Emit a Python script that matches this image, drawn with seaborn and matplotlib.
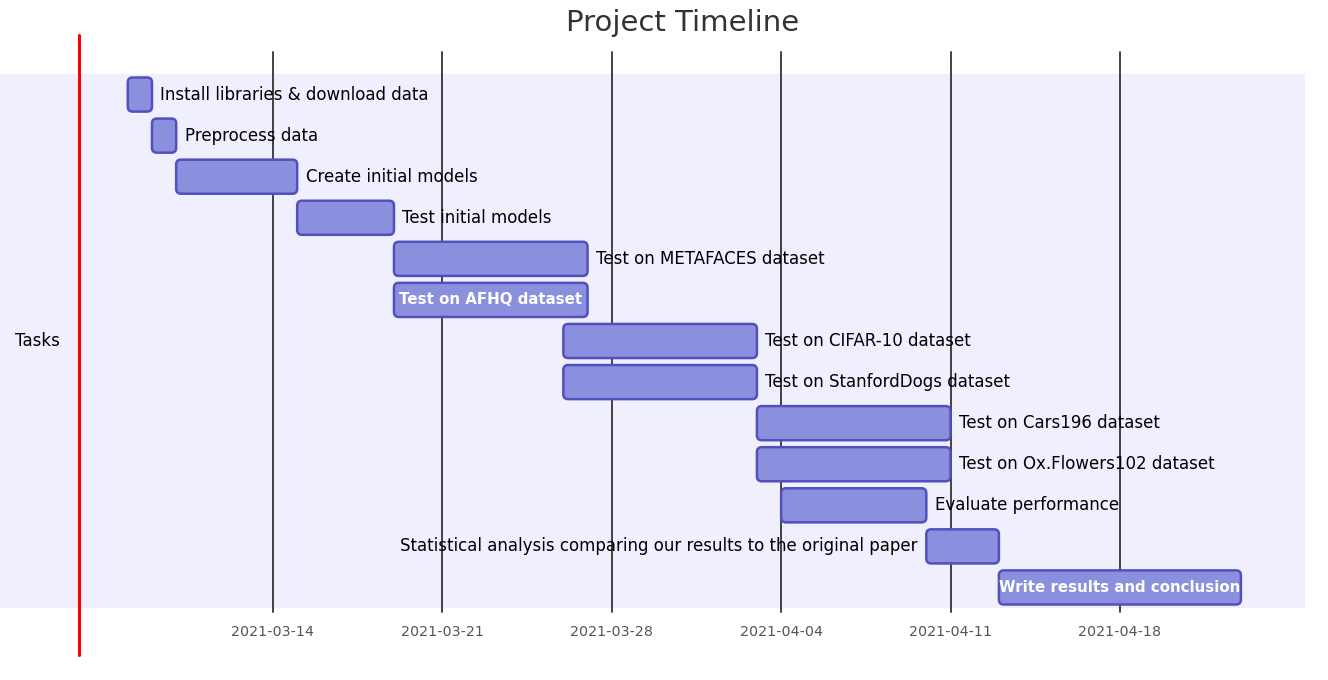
import matplotlib
matplotlib.use("Agg")
import matplotlib.pyplot as plt
import matplotlib.dates as mdates
from matplotlib.patches import FancyBboxPatch
import seaborn as sns
import pandas as pd

# task data
tasks = [
    "Install libraries & download data",
    "Preprocess data",
    "Create initial models",
    "Test initial models",
    "Test on METAFACES dataset",
    "Test on AFHQ dataset",
    "Test on CIFAR-10 dataset",
    "Test on StanfordDogs dataset",
    "Test on Cars196 dataset",
    "Test on Ox.Flowers102 dataset",
    "Evaluate performance",
    "Statistical analysis comparing our results to the original paper",
    "Write results and conclusion",
]
starts = ["2021-03-08", "2021-03-09", "2021-03-10", "2021-03-15", "2021-03-19",
          "2021-03-19", "2021-03-26", "2021-03-26", "2021-04-03", "2021-04-03",
          "2021-04-04", "2021-04-10", "2021-04-13"]
ends = ["2021-03-09", "2021-03-10", "2021-03-15", "2021-03-19", "2021-03-27",
        "2021-03-27", "2021-04-03", "2021-04-03", "2021-04-11", "2021-04-11",
        "2021-04-10", "2021-04-13", "2021-04-23"]
# where the label sits: right of bar, inside bar, left of bar
label_pos = ["right", "right", "right", "right", "right", "inside", "right",
             "right", "right", "right", "right", "left", "inside"]
section = "Tasks"
today = "2021-03-06"
tick_dates = pd.date_range("2021-03-14", "2021-04-18", freq="7D")
view_start, view_end = "2021-03-02 17:15", "2021-04-25 15:35"

df = pd.DataFrame({"task": tasks, "start": pd.to_datetime(starts),
                   "end": pd.to_datetime(ends), "pos": label_pos})
df["s"] = mdates.date2num(df["start"])
df["dur"] = mdates.date2num(df["end"]) - df["s"]

sns.set_theme(style="white")
plt.rcParams["font.family"] = ["DejaVu Sans"]

fill = "#8A90DD"
edge = "#534FBC"
band = "#EFEFFD"

fig = plt.figure(figsize=(13.28, 6.8), dpi=100)
ax = fig.add_axes([0, 72 / 680, 1305 / 1328, 534 / 680])
ax.set_facecolor(band)
for sp in ax.spines.values():
    sp.set_visible(False)

bars = ax.barh(range(len(df)), df["dur"], left=df["s"], height=0.83,
               color=fill, edgecolor=edge)
ax.set_xlim(mdates.datestr2num(view_start), mdates.datestr2num(view_end))
ax.set_ylim(len(df) - 0.5, -0.5)

# rounded bars
for b in bars:
    x, y, w, h = b.get_x(), b.get_y(), b.get_width(), b.get_height()
    b.set_visible(False)
    ax.add_patch(FancyBboxPatch((x, y), w, h,
                                boxstyle="round,pad=0,rounding_size=0.2",
                                mutation_aspect=0.59, facecolor=fill,
                                edgecolor=edge, linewidth=1.8, zorder=3))

ax.set_xticks(mdates.date2num(tick_dates))
ax.xaxis.set_major_formatter(mdates.DateFormatter("%Y-%m-%d"))
ax.tick_params(axis="x", length=0, pad=12, labelsize=10.3, labelcolor="#555555")
ax.set_yticks([])

for t in ax.get_xticks():
    ax.axvline(t, ymin=-0.008, ymax=1.041, color="#333333", lw=1.3,
               clip_on=False, zorder=2)

ax.axvline(mdates.datestr2num(today), ymin=-0.088, ymax=1.073, color="red",
           lw=2.2, clip_on=False, zorder=4)

for i, r in df.iterrows():
    if r["pos"] == "inside":
        ax.text(r["s"] + r["dur"] / 2, i, r["task"], ha="center", va="center",
                color="white", fontsize=10.8, fontweight="bold", zorder=5)
    elif r["pos"] == "left":
        ax.annotate(r["task"], (r["s"], i), xytext=(-6, 0),
                    textcoords="offset points", ha="right", va="center",
                    fontsize=12, color="black", zorder=5)
    else:
        ax.annotate(r["task"], (r["s"] + r["dur"], i), xytext=(6, 0),
                    textcoords="offset points", ha="left", va="center",
                    fontsize=12, color="black", zorder=5)

ax.text(15 / 1305, 0.5, section, transform=ax.transAxes, ha="left",
        va="center", fontsize=12, color="black")

fig.text(683 / 1328, 1 - 23 / 680, "Project Timeline", ha="center",
         va="center", fontsize=21, color="#333333")

fig.savefig("out.png", dpi=100)
